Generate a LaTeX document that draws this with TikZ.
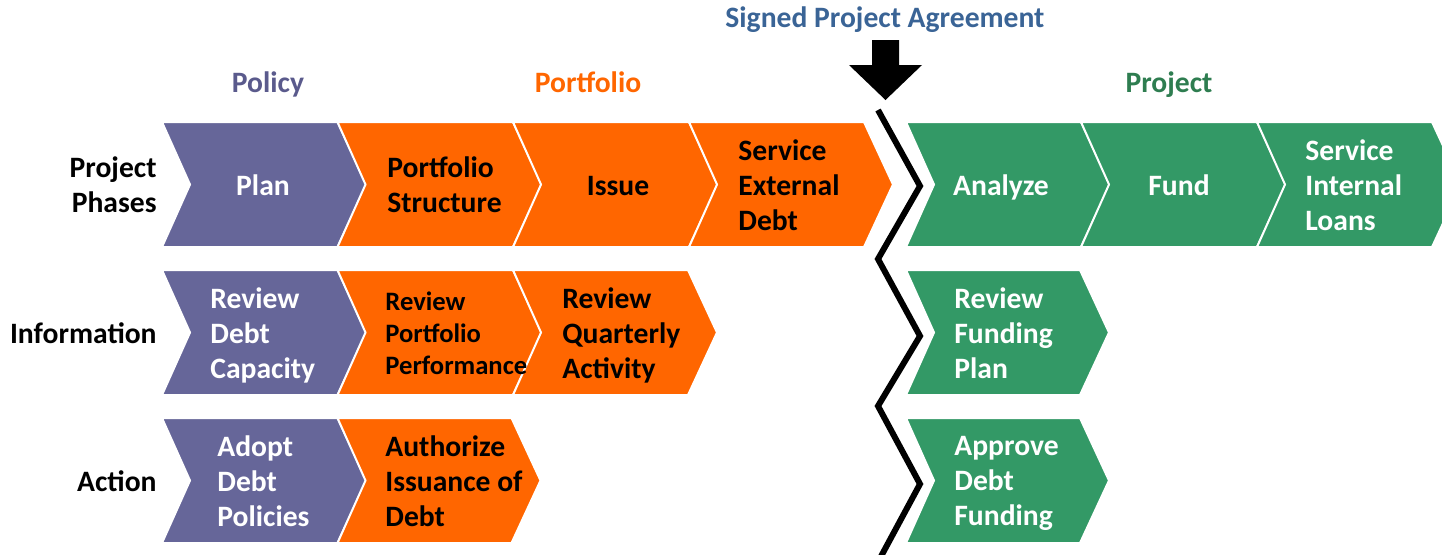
\documentclass[tikz,border=0pt]{standalone}
\usepackage{fontspec}
\setmainfont{Carlito}
\definecolor{cpur}{RGB}{102,102,153}
\definecolor{cora}{RGB}{255,102,0}
\definecolor{cgrn}{RGB}{51,153,102}
\definecolor{hpur}{RGB}{90,90,140}
\definecolor{hgrn}{RGB}{46,125,80}
\definecolor{hblu}{RGB}{58,100,150}
\newcommand\mychev[5]{% x, top y, width, color, name
  \fill[#4,draw=white,line width=1] (#1,#2) -- ++(#3,0) -- ++(29,62.5) -- ++(-29,62.5) -- ++(-#3,0) -- ++(28,-62.5) -- cycle;
  \coordinate (#5) at ({#1+#3/2+14.5},{#2+62.5});
}
\tikzset{
  bigfont/.style={font=\bfseries\fontsize{14.8}{17.5}\selectfont},
  txt/.style={bigfont, inner sep=0pt, align=left, execute at begin node=\strut, execute at end node=\strut},
  wtxt/.style={txt, text=white},
  btxt/.style={txt, text=black},
  lbl/.style={txt, align=right, anchor=east},
  hdr/.style={txt, align=center},
}
\begin{document}
\begin{tikzpicture}[x=0.5pt,y=-0.5pt]
\useasboundingbox (0,0) rectangle (1442,554);
\clip (0,0) rectangle (1442,554);
% row 1
\mychev{162}{122}{175.5}{cpur}{c11}
\mychev{337.5}{122}{175.5}{cora}{c12}
\mychev{513}{122}{176}{cora}{c13}
\mychev{689}{122}{175}{cora}{c14}
\mychev{906}{122}{175}{cgrn}{c15}
\mychev{1081}{122}{176}{cgrn}{c16}
\mychev{1257}{122}{175}{cgrn}{c17}
% row 2
\mychev{162}{270}{175.5}{cpur}{c21}
\mychev{337.5}{270}{175.5}{cora}{c22}
\mychev{513}{270}{175}{cora}{c23}
\mychev{906}{270}{174}{cgrn}{c24}
% row 3
\mychev{162}{418}{175.5}{cpur}{c31}
\mychev{337.5}{418}{174}{cora}{c32}
\mychev{906}{418}{174}{cgrn}{c33}
% texts row 1
\node[wtxt] (t11) at (263,188) {Plan};
\node[btxt,anchor=west] (t12) at (387,190) {Portfolio\\Structure};
\node[btxt] (t13) at (618,188) {Issue};
\node[btxt,anchor=west] (t14) at (738,190) {Service\\External\\Debt};
\node[wtxt] (t15) at (1001,188) {Analyze};
\node[wtxt] (t16) at (1179,188) {Fund};
\node[wtxt,anchor=west] (t17) at (1305,190) {Service\\Internal\\Loans};
% texts row 2
\node[wtxt,anchor=west] (t21) at (210,338) {Review\\Debt\\Capacity};
\node[btxt,anchor=west,font=\bfseries\fontsize{13.3}{16}\selectfont] (t22) at (385,338) {Review\\Portfolio\\Performance};
\node[btxt,anchor=west] (t23) at (562,338) {Review\\Quarterly\\Activity};
\node[wtxt,anchor=west] (t24) at (954,338) {Review\\Funding\\Plan};
% texts row 3
\node[wtxt,anchor=west] (t31) at (217,486) {Adopt\\Debt\\Policies};
\node[btxt,anchor=west] (t32) at (385,486) {Authorize\\Issuance of\\Debt};
\node[wtxt,anchor=west] (t33) at (954,486) {Approve\\Debt\\Funding};
% row labels
\node[lbl] (l1) at (157,190) {Project\\Phases};
\node[lbl] (l2) at (157,336) {Information};
\node[lbl] (l3) at (157,484) {Action};
% headers
\node[hdr,text=hpur] (h1) at (268,85) {Policy};
\node[hdr,text=cora] (h2) at (588,85) {Portfolio};
\node[hdr,text=hgrn] (h3) at (1169,85) {Project};
\node[hdr,text=hblu] (h4) at (885,20) {Signed Project Agreement};
% arrow
\fill[black] (872,40) -- (899,40) -- (899,65) -- (922,65) -- (885.5,100) -- (849,65) -- (872,65) -- cycle;
% zigzag
\draw[black,line width=3pt,line join=miter] (878,110) -- (920,186) -- (878,259) -- (920,336) -- (878,406) -- (920,484) -- (878,562);
\end{tikzpicture}
\end{document}
